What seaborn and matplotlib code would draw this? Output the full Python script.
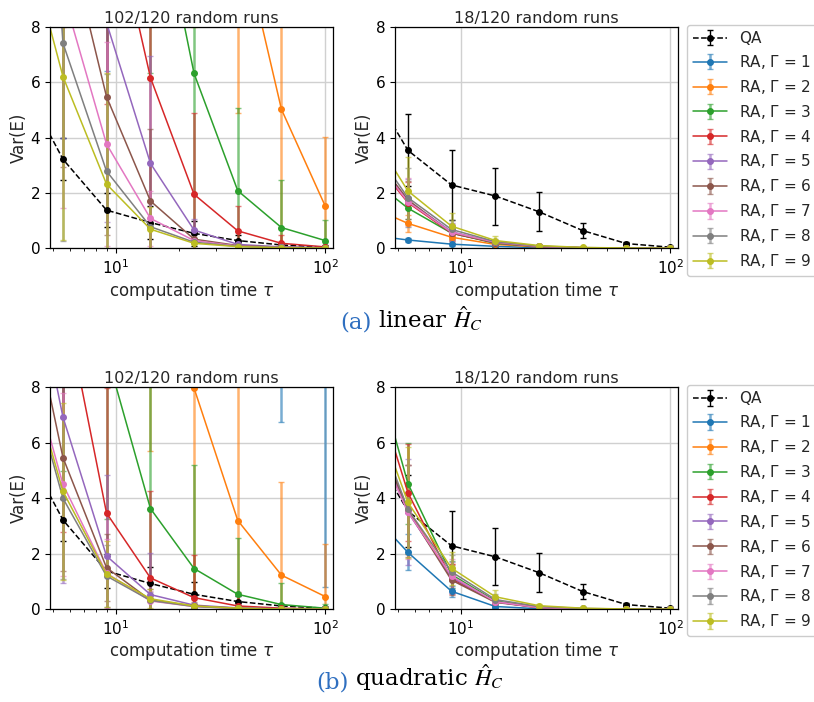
import numpy as np
import matplotlib
matplotlib.use("Agg")
import matplotlib.pyplot as plt
import seaborn as sns

# ---------------- data ----------------
tau = [3.44, 5.57, 9.0, 14.6, 23.6, 38.2, 61.8, 100.0]
gammas = [1, 2, 3, 4, 5, 6, 7, 8, 9]
titles = ["102/120 random runs", "18/120 random runs"]

qa_many_var = [6.2, 3.22, 1.38, 0.93, 0.54, 0.28, 0.12, 0.04]
qa_many_err = [1.5, 0.75, 0.62, 0.60, 0.45, 0.20, 0.08, 0.03]
qa_few_var = [6.2, 3.54, 2.29, 1.89, 1.32, 0.64, 0.17, 0.04]
qa_few_err = [2.0, 1.30, 1.25, 1.03, 0.70, 0.27, 0.05, 0.01]

# linear H_C, 102/120 runs (rows: Gamma = 1..9)
lin_many_var = [
    [60, 50, 40, 30, 25, 20, 15, 12],
    [45, 40, 32, 25, 18, 11.8, 5.02, 1.53],
    [35, 30, 22, 14.1, 6.32, 2.08, 0.75, 0.28],
    [30, 18, 13.2, 6.17, 1.95, 0.63, 0.18, 0.05],
    [30, 14, 8.16, 3.07, 0.66, 0.14, 0.05, 0.02],
    [25, 12.0, 5.48, 1.71, 0.33, 0.10, 0.04, 0.01],
    [30, 9.24, 3.77, 1.08, 0.28, 0.08, 0.03, 0.01],
    [31, 7.42, 2.79, 0.78, 0.22, 0.07, 0.03, 0.01],
    [12.2, 6.21, 2.32, 0.69, 0.18, 0.06, 0.02, 0.01],
]
lin_many_err = [
    [20, 46, 33.6, 20, 15, 10, 5, 3],
    [10, 10, 10, 10, 10, 6.9, 6.0, 2.5],
    [10, 10, 10, 7.75, 6.0, 3.0, 1.72, 0.74],
    [10, 10, 8.0, 7.0, 2.95, 0.9, 0.3, 0.08],
    [10, 10, 7.2, 3.88, 0.4, 0.15, 0.05, 0.02],
    [10, 9.05, 5.0, 2.62, 0.35, 0.1, 0.04, 0.01],
    [10, 7.8, 3.7, 1.0, 0.3, 0.08, 0.03, 0.01],
    [10, 7.15, 3.5, 0.9, 0.25, 0.07, 0.03, 0.01],
    [6, 5.9, 4.0, 0.8, 0.2, 0.06, 0.02, 0.01],
]

# linear H_C, 18/120 runs
lin_few_var = [
    [0.5, 0.30, 0.15, 0.07, 0.02, 0.01, 0.005, 0.003],
    [1.6, 0.90, 0.40, 0.14, 0.05, 0.02, 0.008, 0.004],
    [2.7, 1.45, 0.55, 0.18, 0.06, 0.02, 0.008, 0.004],
    [3.6, 1.65, 0.55, 0.20, 0.06, 0.02, 0.008, 0.004],
    [3.8, 1.72, 0.60, 0.20, 0.07, 0.02, 0.008, 0.004],
    [3.8, 1.75, 0.55, 0.20, 0.07, 0.02, 0.008, 0.004],
    [3.7, 1.68, 0.58, 0.22, 0.07, 0.02, 0.008, 0.004],
    [4.1, 1.83, 0.68, 0.24, 0.08, 0.025, 0.01, 0.005],
    [4.6, 2.07, 0.80, 0.28, 0.10, 0.03, 0.01, 0.005],
]
lin_few_err = [
    [0.1, 0.08, 0.05, 0.02, 0.01, 0.005, 0.002, 0.001],
    [0.4, 0.30, 0.12, 0.05, 0.02, 0.01, 0.004, 0.002],
    [0.6, 0.40, 0.20, 0.07, 0.02, 0.01, 0.004, 0.002],
    [1.0, 0.75, 0.25, 0.08, 0.03, 0.01, 0.004, 0.002],
    [1.0, 0.80, 0.30, 0.08, 0.03, 0.01, 0.004, 0.002],
    [1.0, 0.70, 0.30, 0.08, 0.03, 0.01, 0.004, 0.002],
    [1.0, 0.87, 0.30, 0.09, 0.03, 0.01, 0.004, 0.002],
    [1.2, 1.07, 0.35, 0.10, 0.03, 0.01, 0.004, 0.002],
    [1.5, 1.24, 0.48, 0.17, 0.04, 0.01, 0.004, 0.002],
]

# quadratic H_C, 102/120 runs
quad_many_var = [
    [60, 50, 40, 30, 25, 20, 15, 10],
    [40, 35, 28, 20, 7.97, 3.2, 1.23, 0.46],
    [25, 15, 9.24, 3.63, 1.47, 0.54, 0.17, 0.04],
    [20, 11.4, 3.47, 1.13, 0.42, 0.12, 0.04, 0.01],
    [14.7, 6.93, 1.92, 0.53, 0.15, 0.05, 0.02, 0.01],
    [13.0, 5.47, 1.50, 0.33, 0.12, 0.04, 0.01, 0.005],
    [10.2, 4.50, 1.30, 0.30, 0.10, 0.03, 0.01, 0.005],
    [9.7, 4.00, 1.20, 0.32, 0.10, 0.03, 0.01, 0.005],
    [9.8, 4.25, 1.27, 0.38, 0.12, 0.04, 0.01, 0.005],
]
quad_many_err = [
    [10, 10, 10, 10, 10, 8.25, 8.25, 9.2],
    [10, 10, 10, 14.3, 8.0, 5.0, 3.35, 1.9],
    [10, 10, 6.0, 5.0, 3.73, 2.03, 0.76, 0.15],
    [10, 8.6, 4.5, 3.14, 1.53, 0.5, 0.1, 0.03],
    [10, 6.0, 2.92, 1.5, 0.3, 0.1, 0.03, 0.01],
    [5, 4.1, 1.2, 0.4, 0.15, 0.05, 0.01, 0.005],
    [5, 3.3, 1.25, 0.35, 0.1, 0.03, 0.01, 0.005],
    [5, 2.9, 1.1, 0.3, 0.1, 0.03, 0.01, 0.005],
    [5, 3.2, 1.2, 0.35, 0.1, 0.04, 0.01, 0.005],
]

# quadratic H_C, 18/120 runs
quad_few_var = [
    [3.75, 2.05, 0.65, 0.10, 0.02, 0.005, 0.003, 0.002],
    [7.4, 3.60, 1.15, 0.28, 0.06, 0.02, 0.008, 0.004],
    [10.2, 4.53, 1.25, 0.30, 0.06, 0.02, 0.008, 0.004],
    [9.3, 4.20, 1.10, 0.27, 0.06, 0.02, 0.008, 0.004],
    [7.3, 3.50, 1.15, 0.27, 0.06, 0.02, 0.008, 0.004],
    [7.5, 3.55, 1.05, 0.25, 0.06, 0.02, 0.008, 0.004],
    [7.0, 3.50, 1.20, 0.27, 0.06, 0.02, 0.008, 0.004],
    [7.8, 3.60, 1.35, 0.35, 0.10, 0.03, 0.01, 0.005],
    [8.2, 3.85, 1.48, 0.45, 0.13, 0.04, 0.01, 0.005],
]
quad_few_err = [
    [1.0, 0.65, 0.20, 0.05, 0.01, 0.005, 0.002, 0.001],
    [2.0, 1.60, 0.50, 0.15, 0.03, 0.01, 0.004, 0.002],
    [2.0, 1.45, 0.50, 0.15, 0.03, 0.01, 0.004, 0.002],
    [2.0, 1.75, 0.55, 0.15, 0.03, 0.01, 0.004, 0.002],
    [2.0, 1.90, 0.55, 0.15, 0.03, 0.01, 0.004, 0.002],
    [2.0, 1.65, 0.55, 0.15, 0.03, 0.01, 0.004, 0.002],
    [2.0, 1.70, 0.60, 0.18, 0.03, 0.01, 0.004, 0.002],
    [2.0, 1.60, 0.60, 0.20, 0.04, 0.01, 0.004, 0.002],
    [2.0, 2.00, 0.60, 0.25, 0.05, 0.01, 0.004, 0.002],
]

# ---------------- style ----------------
sns.set_theme(style="ticks", palette="tab10")
plt.rcParams.update({
    "font.family": ["DejaVu Sans"],
    "font.size": 11,
    "axes.titlesize": 11.5,
    "axes.labelsize": 12,
    "xtick.labelsize": 11,
    "ytick.labelsize": 11,
    "legend.fontsize": 11,
    "axes.edgecolor": "black",
    "axes.linewidth": 0.9,
    "xtick.color": "black",
    "ytick.color": "black",
    "xtick.major.size": 3.5,
    "ytick.major.size": 3.5,
    "xtick.minor.size": 2,
    "xtick.major.width": 0.8,
    "ytick.major.width": 0.8,
    "xtick.minor.width": 0.6,
})
palette = sns.color_palette("tab10", 9)

fig = plt.figure(figsize=(8.14, 7.02), dpi=100)
W, H = 814, 702

def add_ax(x0, x1, y0, y1):
    return fig.add_axes([x0 / W, 1 - y1 / H, (x1 - x0) / W, (y1 - y0) / H])

axes = [
    [add_ax(50, 333, 27, 248.3), add_ax(395, 678, 27, 248.3)],
    [add_ax(50, 333, 387.3, 609.3), add_ax(395, 678, 387.3, 609.3)],
]

panels = [
    [(qa_many_var, qa_many_err, lin_many_var, lin_many_err),
     (qa_few_var, qa_few_err, lin_few_var, lin_few_err)],
    [(qa_many_var, qa_many_err, quad_many_var, quad_many_err),
     (qa_few_var, qa_few_err, quad_few_var, quad_few_err)],
]

for r in range(2):
    for c in range(2):
        ax = axes[r][c]
        qv, qe, rv, re_ = panels[r][c]
        ax.errorbar(tau, qv, yerr=qe, fmt="o--", color="black", ms=4,
                    lw=1.1, elinewidth=1.0, capsize=2.5, label="QA")
        for i, g in enumerate(gammas):
            cont = ax.errorbar(tau, rv[i], yerr=re_[i], fmt="o-", color=palette[i],
                               ms=4, lw=1.1, elinewidth=1.8, capsize=2.5,
                               label=rf"RA, $\Gamma$ = {g}")
            for bl in cont[2]:
                bl.set_alpha(0.6)
            for cp in cont[1]:
                cp.set_alpha(0.6)
        ax.set_xscale("log")
        ax.set_xlim(4.83, 109)
        ax.set_ylim(0, 8)
        ax.set_yticks([0, 2, 4, 6, 8])
        ax.grid(True, which="major", color="#d0d0d0", lw=1.0)
        ax.set_axisbelow(True)
        ax.set_title(titles[c], pad=3)
        ax.set_xlabel(r"computation time $\tau$", labelpad=2)
        ax.set_ylabel("Var(E)", labelpad=2)
        ax.tick_params(which="both", direction="out", bottom=True, left=True)
        if c == 1:
            ax.legend(loc="upper left", bbox_to_anchor=(1 + 9 / 283, 1 + 2 / 221.6),
                      borderaxespad=0, frameon=True, fancybox=True,
                      edgecolor="#cccccc", framealpha=1.0, handlelength=2.2,
                      labelspacing=0.45)

# captions
blue = "#2f6fc0"
caps = [("(a)", r" linear $\hat{H}_C$", 340, 328), ("(b)", r" quadratic $\hat{H}_C$", 316, 688)]
for lab, txt, xp, yp in caps:
    t1 = fig.text(xp / W, 1 - yp / H, lab, color=blue, fontsize=16.5,
                  family="DejaVu Serif", va="baseline", ha="left")
    axes[0][0].annotate(
        txt, xy=(1, 0), xycoords=t1, va="bottom", ha="left", fontsize=16.5,
        family="DejaVu Serif", math_fontfamily="stix", color="black",
        annotation_clip=False)

fig.savefig("out.png", dpi=100)
